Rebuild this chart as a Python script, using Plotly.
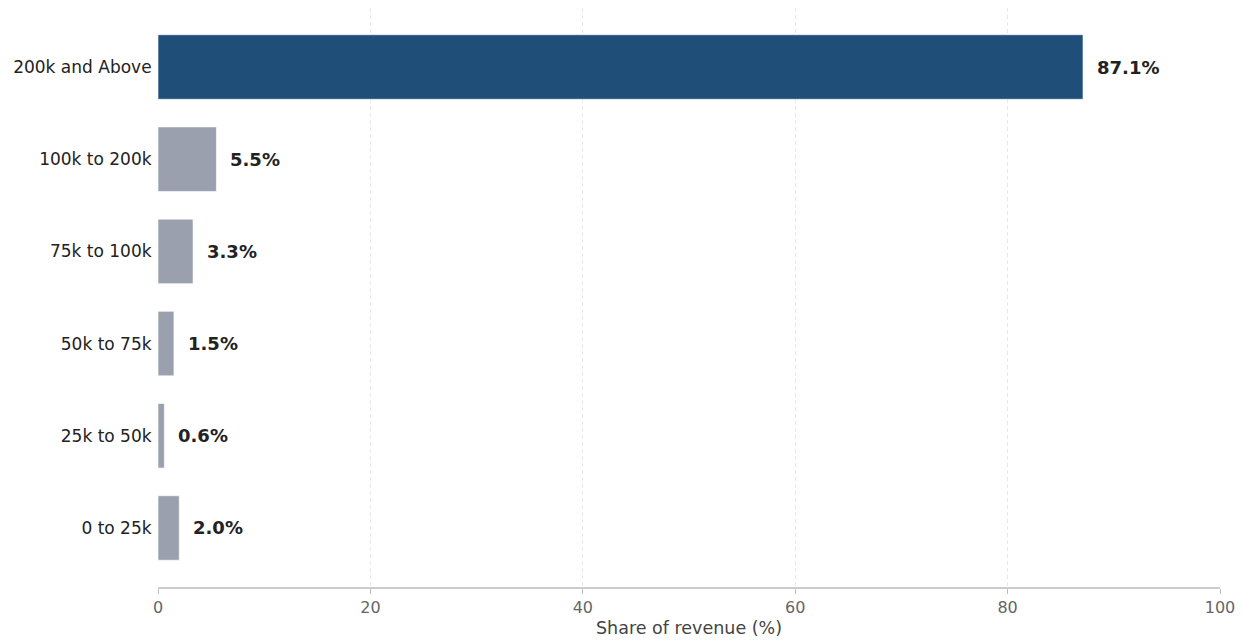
import plotly.graph_objects as go

# Revenue share by income bracket (bottom to top)
brackets = ["0 to 25k", "25k to 50k", "50k to 75k", "75k to 100k", "100k to 200k", "200k and Above"]
shares = [2.0, 0.6, 1.5, 3.3, 5.5, 87.1]

highlight = "200k and Above"
colors = ["#1f4e79" if b == highlight else "#9aa0ad" for b in brackets]

fig = go.Figure()
fig.add_trace(go.Bar(
    x=shares,
    y=brackets,
    orientation="h",
    width=0.7,
    marker=dict(color=colors, line=dict(color="rgba(255,255,255,0.6)", width=1)),
    hoverinfo="skip",
))

# Value labels to the right of each bar
for b, v in zip(brackets, shares):
    fig.add_annotation(
        x=v, y=b, text=f"<b>{v:.1f}%</b>",
        xanchor="left", yanchor="middle", xshift=12, showarrow=False,
        font=dict(family="DejaVu Sans", size=18, color="#222222"),
    )

fig.update_layout(
    width=1244, height=641,
    margin=dict(l=158, r=24, t=8, b=54),
    paper_bgcolor="white", plot_bgcolor="white",
    showlegend=False,
    font=dict(family="DejaVu Sans", color="#222222"),
)
fig.update_xaxes(
    range=[0, 100], dtick=20, automargin=False,
    showgrid=True, gridcolor="#e9e9e9", griddash="4px,3px", gridwidth=1,
    showline=True, linecolor="#cccccc", linewidth=1.5,
    ticks="outside", ticklen=5, tickcolor="#bbbbbb",
    tickfont=dict(size=16, color="#666666"),
    title=dict(text="Share of revenue (%)", font=dict(size=17.5, color="#444444"), standoff=6),
    zeroline=False,
)
fig.update_yaxes(
    type="category", range=[-0.64, 5.64], automargin=False,
    showgrid=False, showline=False, ticks="",
    tickfont=dict(size=17, color="#222222"),
    ticksuffix=" ",
)

fig.write_html("out.html")
